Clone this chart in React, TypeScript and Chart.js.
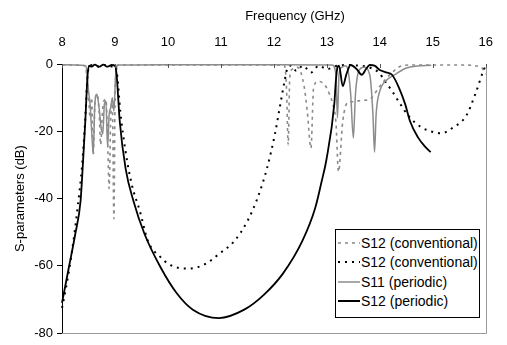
import React, { useEffect, useRef } from "react";
import { Chart, registerables } from "chart.js";

Chart.register(...registerables);

// Tick values
const xTicks = [8, 9, 10, 11, 12, 13, 14, 15, 16];
const yTicks = [0, -20, -40, -60, -80];

// Series 1: S12 (conventional) gray dashed (reflection-like)
const s11ConvFreq = [8.0, 8.44, 8.47, 8.5, 8.53, 8.56, 8.59, 8.62, 8.66, 8.7, 8.73, 8.76, 8.79, 8.83, 8.86, 8.89, 8.92, 8.95, 8.98, 9.0, 9.02, 9.05, 10, 11, 12.0, 12.2, 12.24, 12.27, 12.3, 12.35, 12.45, 12.57, 12.63, 12.7, 12.75, 12.84, 12.95, 13.05, 13.13, 13.17, 13.22, 13.3, 13.39, 13.5, 13.57, 13.7, 13.81, 14.0, 14.2, 14.42, 14.6, 15.0, 15.5, 15.9, 16.0];
const s11ConvVals = [-0.3, -0.5, -4, -9, -16, -10, -27, -12, -9, -14, -24, -15, -11, -10.5, -22, -37, -16, -11.5, -46, -12, -2, -0.3, -0.3, -0.3, -0.3, -0.5, -8, -24, -4, -1.5, -1, -6.6, -14, -25, -7, -5.2, -6, -9, -13, -17, -32, -17, -11.5, -11.2, -11, -10.8, -10.5, -6.6, -3, -0.5, -0.3, -0.3, -0.3, -0.8, -3];

// Series 2: S12 (conventional) black dotted
const s12ConvFreq = [8.0, 8.07, 8.19, 8.3, 8.38, 8.44, 8.48, 8.52, 8.6, 8.7, 8.8, 8.9, 9.0, 9.04, 9.1, 9.2, 9.32, 9.47, 9.62, 9.86, 10.05, 10.4, 10.71, 10.96, 11.26, 11.5, 11.69, 11.87, 12.02, 12.11, 12.2, 12.25, 12.32, 12.42, 12.55, 12.7, 12.85, 13.0, 13.2, 13.4, 13.6, 13.8, 13.99, 14.1, 14.23, 14.39, 14.54, 14.78, 15.03, 15.15, 15.39, 15.63, 15.81, 15.96, 16.0];
const s12ConvVals = [-72.5, -67, -55.5, -42, -30, -16, -4, -0.5, -0.3, -0.8, -0.3, -0.8, -0.5, -3, -14, -26, -36, -43.7, -52.5, -57.4, -59.8, -60.8, -59.4, -56.5, -52.5, -46.7, -39.9, -31, -20.8, -13, -5.2, -1.5, -0.5, -2, -0.5, -2.5, -0.5, -1.5, -0.5, -0.3, -0.5, -1, -2.7, -5.2, -8, -12, -15.4, -18.8, -20.3, -20.6, -18.8, -15.4, -8.6, -1.8, -0.5];

// Series 3: S11 (periodic) gray solid
const s11PerFreq = [8.0, 8.45, 8.48, 8.5, 8.53, 8.56, 8.59, 8.62, 8.66, 8.7, 8.74, 8.77, 8.8, 8.83, 8.86, 8.89, 8.92, 8.95, 8.98, 9.01, 9.03, 9.06, 10, 11, 12, 13.1, 13.17, 13.2, 13.23, 13.28, 13.35, 13.39, 13.45, 13.5, 13.54, 13.6, 13.7, 13.81, 13.87, 13.9, 13.93, 14.0, 14.1, 14.3, 14.5, 14.7, 14.97];
const s11PerVals = [-0.2, -0.5, -4, -8, -12, -20, -26.7, -12, -9, -13, -19, -20.8, -12, -11, -24.7, -15, -13, -10, -14, -4, -1, -0.3, -0.2, -0.2, -0.2, -0.3, -3, -16, -3, -1, -0.5, -1.2, -9, -22, -9, -2.2, -1, -3.2, -15, -26.2, -15, -8, -5.2, -3, -1.2, -0.6, -0.4];

// Series 4: S12 (periodic) black solid
const s12PerFreq = [8.0, 8.13, 8.25, 8.35, 8.39, 8.44, 8.48, 8.51, 8.56, 8.62, 8.7, 8.78, 8.86, 8.94, 9.0, 9.03, 9.09, 9.2, 9.35, 9.56, 9.86, 10.17, 10.47, 10.96, 11.44, 11.81, 12.17, 12.54, 12.78, 12.9, 12.99, 13.14, 13.17, 13.2, 13.23, 13.3, 13.37, 13.45, 13.56, 13.66, 13.74, 13.81, 13.9, 14.0, 14.12, 14.23, 14.36, 14.48, 14.57, 14.72, 14.85, 14.96];
const s12PerVals = [-71, -60.4, -50.6, -40.8, -31, -17, -4, -0.5, -0.8, -0.2, -0.8, -0.2, -0.8, -0.3, -0.5, -3, -17, -31, -40.8, -50.6, -60.4, -68.2, -73, -75.5, -73, -68.6, -62.3, -52.5, -42.8, -35, -28.6, -12, -5, -1, -0.5, -6.6, -3, -0.3, -1.5, -3.2, -1.5, -0.3, -0.5, -1.8, -2.5, -3.2, -7, -12, -17, -21.8, -24.5, -26.2];

const legendLabels = ["S12 (conventional)", "S12 (conventional)", "S11 (periodic)", "S12 (periodic)"];
const xTitle = "Frequency (GHz)";
const yTitle = "S-parameters (dB)";

const FONT = "'Liberation Sans', Arial, sans-serif";

const toPts = (xs: number[], ys: number[]) => xs.map((x, i) => ({ x, y: ys[i] }));

const framePlugin = {
  id: "frame",
  afterDraw(chart: any) {
    const { ctx, chartArea } = chart;
    const xs = chart.scales.x;
    ctx.save();
    ctx.strokeStyle = "#9a9a9a";
    ctx.lineWidth = 1;
    ctx.beginPath();
    ctx.moveTo(Math.round(chartArea.right) + 0.5, chartArea.top);
    ctx.lineTo(Math.round(chartArea.right) + 0.5, Math.round(chartArea.bottom) + 0.5);
    ctx.lineTo(chartArea.left, Math.round(chartArea.bottom) + 0.5);
    ctx.stroke();
    ctx.strokeStyle = "#555";
    ctx.beginPath();
    xTicks.forEach((t) => {
      const px = Math.round(xs.getPixelForValue(t)) + 0.5;
      ctx.moveTo(px, chartArea.top);
      ctx.lineTo(px, chartArea.top + 4);
    });
    ctx.stroke();
    ctx.restore();
  },
};

function LegendSample({ kind }: { kind: number }) {
  const props: any =
    kind === 0
      ? { stroke: "#888", strokeWidth: 1.5, strokeDasharray: "3 4" }
      : kind === 1
      ? { stroke: "#000", strokeWidth: 2, strokeDasharray: "2 5" }
      : kind === 2
      ? { stroke: "#8c8c8c", strokeWidth: 1.5 }
      : { stroke: "#000", strokeWidth: 2 };
  return (
    <svg width={22} height={6} style={{ display: "block" }}>
      <line x1={0} y1={3} x2={22} y2={3} {...props} />
    </svg>
  );
}

export default function App() {
  const ref = useRef<HTMLCanvasElement | null>(null);
  useEffect(() => {
    if (!ref.current) return;
    const chart = new Chart(ref.current, {
      type: "line",
      data: {
        datasets: [
          {
            label: legendLabels[0],
            data: toPts(s11ConvFreq, s11ConvVals),
            borderColor: "#8a8a8a",
            borderWidth: 1.6,
            borderDash: [3, 4],
            pointRadius: 0,
            cubicInterpolationMode: "monotone",
            clip: false,
            order: 3,
          },
          {
            label: legendLabels[1],
            data: toPts(s12ConvFreq, s12ConvVals),
            borderColor: "#000",
            borderWidth: 2,
            borderDash: [2, 5],
            pointRadius: 0,
            cubicInterpolationMode: "monotone",
            clip: false,
            order: 2,
          },
          {
            label: legendLabels[2],
            data: toPts(s11PerFreq, s11PerVals),
            borderColor: "#8c8c8c",
            borderWidth: 1.5,
            pointRadius: 0,
            cubicInterpolationMode: "monotone",
            clip: false,
            order: 1,
          },
          {
            label: legendLabels[3],
            data: toPts(s12PerFreq, s12PerVals),
            borderColor: "#000",
            borderWidth: 1.8,
            pointRadius: 0,
            cubicInterpolationMode: "monotone",
            clip: false,
            order: 0,
          },
        ],
      },
      options: {
        animation: false,
        responsive: false,
        maintainAspectRatio: false,
        layout: { padding: { left: 0, top: 0, right: 8, bottom: 9 } },
        plugins: { legend: { display: false }, tooltip: { enabled: false } },
        scales: {
          x: {
            type: "linear",
            position: "top",
            min: 8,
            max: 16,
            afterFit: (s: any) => {
              s.height = 64;
            },
            afterBuildTicks: (s: any) => {
              s.ticks = xTicks.map((v) => ({ value: v }));
            },
            ticks: {
              color: "#000",
              font: { family: FONT, size: 13 },
              padding: 14,
              maxRotation: 0,
              autoSkip: false,
            },
            grid: { display: false, drawTicks: false },
            border: { display: false },
            title: { display: false },
          },
          y: {
            type: "linear",
            position: "left",
            min: -80,
            max: 0,
            afterFit: (s: any) => {
              s.width = 62;
            },
            afterBuildTicks: (s: any) => {
              s.ticks = yTicks.map((v) => ({ value: v }));
            },
            ticks: {
              color: "#000",
              font: { family: FONT, size: 13 },
              padding: 4,
              autoSkip: false,
            },
            grid: { drawOnChartArea: false, drawTicks: true, tickLength: 5, color: "#000" },
            border: { display: true, color: "#000", width: 1 },
            title: {
              display: true,
              text: yTitle,
              color: "#000",
              font: { family: FONT, size: 13 },
              padding: { top: 13, bottom: 0 },
            },
          },
        },
      },
      plugins: [framePlugin],
    } as any);
    return () => chart.destroy();
  }, []);

  return (
    <div style={{ position: "fixed", left: 0, top: 0, width: 507, height: 345, background: "#fff" }}>
      <canvas ref={ref} width={507} height={345} style={{ display: "block", width: 507, height: 345 }} />
      <div
        style={{
          position: "absolute",
          left: 195,
          top: 8,
          width: 200,
          textAlign: "center",
          fontFamily: FONT,
          fontSize: 13,
          lineHeight: "16px",
          color: "#000",
          whiteSpace: "nowrap",
        }}
      >
        {xTitle}
      </div>
      <div
        style={{
          position: "absolute",
          left: 335,
          top: 229,
          width: 145,
          height: 89,
          border: "1px solid #000",
          background: "#fff",
          fontFamily: FONT,
          fontSize: 14,
          color: "#000",
          boxSizing: "border-box",
          paddingTop: 3,
        }}
      >
        {legendLabels.map((l, i) => (
          <div key={i} style={{ display: "flex", alignItems: "center", height: 19.5, paddingLeft: 2 }}>
            <LegendSample kind={i} />
            <span style={{ marginLeft: 1, whiteSpace: "nowrap" }}>{l}</span>
          </div>
        ))}
      </div>
    </div>
  );
}
